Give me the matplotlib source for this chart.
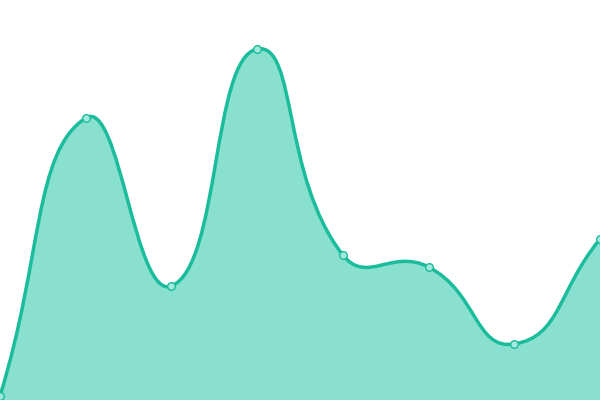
import matplotlib
matplotlib.use('Agg')
import matplotlib.pyplot as plt
import numpy as np
from matplotlib.path import Path
from matplotlib.patches import PathPatch

# values (y axis 0..400)
categories = ['A', 'B', 'C', 'D', 'E', 'F', 'G', 'H']
values = [4, 282, 114, 351, 145, 133, 56, 161]

LINE = '#1abc9c'
FILL = '#8ae0cf'
DOT = '#a3e8da'
SMOOTH = 0.5


def smooth_controls(pts):
    """Bezier control points, echarts-style smoothing, pts in display space."""
    n = len(pts)
    cps = []
    for i in range(n):
        p1 = pts[i]
        p0 = pts[i - 1] if i > 0 else p1
        p2 = pts[i + 1] if i < n - 1 else p1
        v = (p2 - p0) * SMOOTH
        d0 = np.hypot(*(p1 - p0))
        d1 = np.hypot(*(p1 - p2))
        s = d0 + d1
        if s:
            d0, d1 = d0 / s, d1 / s
        cps.append((p1 - v * d0, p1 + v * d1))
    return cps


fig = plt.figure(figsize=(6, 4), dpi=100)
ax = fig.add_axes([0, 0, 1, 1])
x = np.arange(len(categories))
ax.set_xlim(0, len(categories) - 1)
ax.set_ylim(0, 400)
ax.axis('off')

disp = ax.transData.transform(np.column_stack([x, values]))
cps = smooth_controls(disp)
verts = [disp[0]]
codes = [Path.MOVETO]
for i in range(len(disp) - 1):
    verts += [cps[i][1], cps[i + 1][0], disp[i + 1]]
    codes += [Path.CURVE4] * 3
inv = ax.transData.inverted()
verts = inv.transform(np.array(verts))

line_path = Path(verts, codes)
fill_verts = np.vstack([verts, [[x[-1], 0], [x[0], 0], verts[0]]])
fill_codes = codes + [Path.LINETO, Path.LINETO, Path.CLOSEPOLY]
ax.add_patch(PathPatch(Path(fill_verts, fill_codes), facecolor=FILL,
                       edgecolor='none', zorder=1))
ax.add_patch(PathPatch(line_path, facecolor='none', edgecolor=LINE,
                       linewidth=2.5, zorder=2))
ax.plot(x, values, 'o', ms=5.5, mfc=DOT, mec=LINE, mew=1,
        zorder=3, clip_on=False)

plt.savefig('out.png', dpi=100)
plt.close()
